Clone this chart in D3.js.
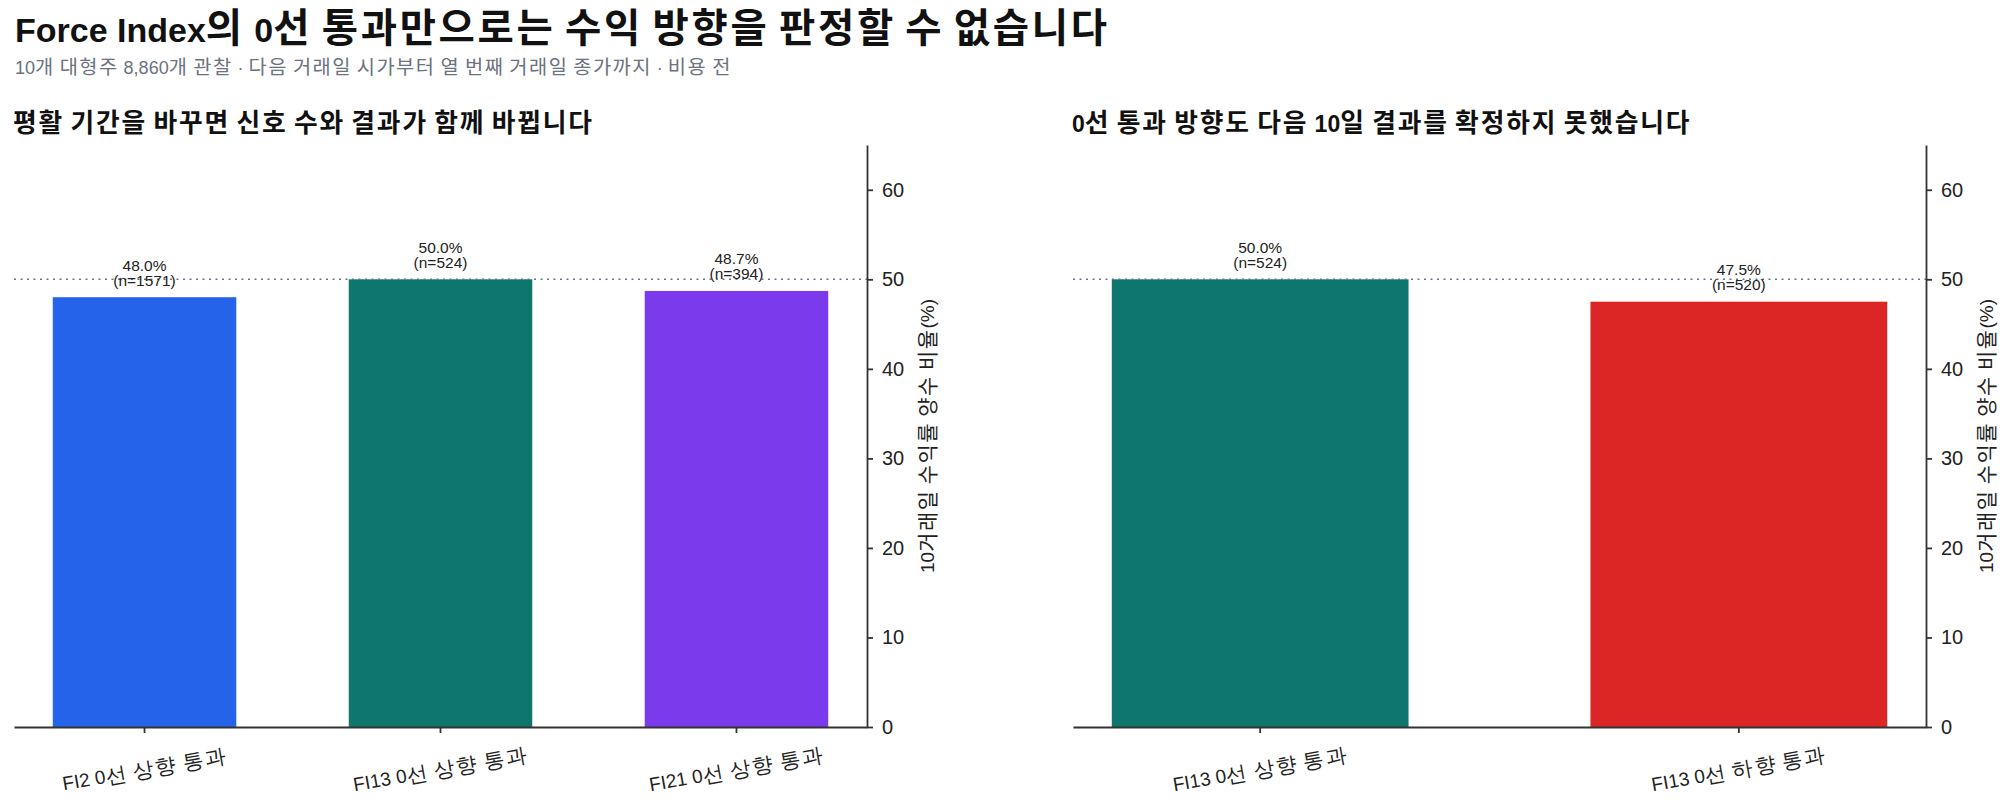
<!DOCTYPE html>
<html>
<head>
<meta charset="utf-8">
<style>
  body { margin: 0; background: #fff; }
  svg { display: block; font-family: "Liberation Sans", "Noto Sans CJK KR", sans-serif; }
  .domain, .tick line { stroke: #333; stroke-width: 1.8px; }
  .tick text { fill: #222; }
</style>
</head>
<body>
<svg width="2010" height="812"></svg>

<script src="https://d3js.org/d3.v7.min.js"></script>
<script>
// data
const leftCats = ["FI2 0선 상향 통과", "FI13 0선 상향 통과", "FI21 0선 상향 통과"];
const leftRates = [48.0, 50.0, 48.7];
const leftCounts = [1571, 524, 394];
const leftColors = ["#2563eb", "#0f766e", "#7c3aed"];

const rightCats = ["FI13 0선 상향 통과", "FI13 0선 하향 통과"];
const rightRates = [50.0, 47.5];
const rightCounts = [524, 520];
const rightColors = ["#0f766e", "#dc2626"];

const yTicks = [0, 10, 20, 30, 40, 50, 60];
const yMax = 65;
const refLevel = 50;

const svg = d3.select("svg");

// hangul in the reference runs wider than the latin text, so give it its own size
function setMixed(sel, str, base, factor) {
  factor = factor || 1.1;
  sel.text(null);
  let runs = str.match(/[\uAC00-\uD7A3]+|[^\uAC00-\uD7A3]+/g);
  runs.forEach(r => {
    let isK = /[\uAC00-\uD7A3]/.test(r);
    sel.append("tspan")
      .style("font-size", (isK ? base * factor : base) + "px")
      .style("letter-spacing", isK ? (base * 0.08) + "px" : null)
      .text(r);
  });
}

let title = svg.append("text")
  .attr("x", 15).attr("y", 42)
  .style("font-size", "34px").style("font-weight", "bold")
  .style("fill", "#111");
setMixed(title, "Force Index의 0선 통과만으로는 수익 방향을 판정할 수 없습니다", 34, 1.16);

let sub = svg.append("text")
  .attr("x", 15).attr("y", 74)
  .style("font-size", "18px")
  .style("fill", "#6b7280");
setMixed(sub, "10개 대형주 8,860개 관찰 · 다음 거래일 시가부터 열 번째 거래일 종가까지 · 비용 전", 18);

let y = d3.scaleLinear().domain([0, yMax]).range([727, 145]);

function drawPanel(cats, rates, counts, colors, x0, x1, titleText) {
  let g = svg.append("g");
  let n = cats.length;
  // matplotlib-like: bar width 0.62, 5% margins
  let outer = 0.05 * (n - 1 + 0.62);
  let x = d3.scaleBand()
    .domain(cats)
    .range([x0, x1])
    .paddingInner(0.38)
    .paddingOuter(outer);

  let t = g.append("text")
    .attr("x", x0 - 1).attr("y", 132)
    .style("font-size", "23px").style("font-weight", "bold")
    .style("fill", "#111");
  setMixed(t, titleText, 23, 1.12);

  g.selectAll(".bar")
    .data(cats)
    .join("rect")
    .attr("class", "bar")
    .attr("x", d => x(d))
    .attr("width", x.bandwidth())
    .attr("y", (d, i) => y(rates[i]))
    .attr("height", (d, i) => y(0) - y(rates[i]))
    .style("fill", (d, i) => colors[i]);

  g.append("line")
    .attr("x1", x0).attr("x2", x1)
    .attr("y1", y(refLevel)).attr("y2", y(refLevel))
    .style("stroke", "#64748b")
    .style("stroke-width", 1.6)
    .style("stroke-dasharray", "2 4.5");

  let labels = g.selectAll(".val")
    .data(cats)
    .join("text")
    .attr("class", "val")
    .attr("text-anchor", "middle")
    .style("font-size", "15.5px")
    .style("fill", "#222");
  labels.append("tspan")
    .attr("x", d => x(d) + x.bandwidth() / 2)
    .attr("y", (d, i) => y(rates[i]) - 26.5)
    .text((d, i) => rates[i].toFixed(1) + "%");
  labels.append("tspan")
    .attr("x", d => x(d) + x.bandwidth() / 2)
    .attr("y", (d, i) => y(rates[i]) - 11.5)
    .text((d, i) => "(n=" + counts[i] + ")");

  let xAxis = g.append("g")
    .attr("transform", `translate(0,${y(0)})`)
    .call(d3.axisBottom(x).tickSize(6).tickSizeOuter(0));
  xAxis.selectAll(".tick text")
    .style("font-size", "19px")
    .attr("text-anchor", "middle")
    .attr("dominant-baseline", "central")
    .attr("dy", null)
    .attr("y", 0)
    .attr("transform", "translate(0,42) rotate(-10)")
    .each(function (d) { setMixed(d3.select(this), d, 19); });

  let yAxis = g.append("g")
    .attr("transform", `translate(${x1},0)`)
    .call(d3.axisRight(y).tickValues(yTicks).tickSize(6).tickPadding(9).tickSizeOuter(0));
  yAxis.selectAll(".tick text").style("font-size", "20px");

  let yl = g.append("text")
    .attr("transform", `translate(${x1 + 60},${(y(0) + y(yMax)) / 2}) rotate(-90)`)
    .attr("text-anchor", "middle")
    .attr("dominant-baseline", "central")
    .style("font-size", "19px")
    .style("fill", "#222");
  setMixed(yl, "10거래일 수익률 양수 비율(%)", 19);
}

drawPanel(leftCats, leftRates, leftCounts, leftColors, 14, 867,
  "평활 기간을 바꾸면 신호 수와 결과가 함께 바뀝니다");
drawPanel(rightCats, rightRates, rightCounts, rightColors, 1073, 1926,
  "0선 통과 방향도 다음 10일 결과를 확정하지 못했습니다");
</script>
</body>
</html>
